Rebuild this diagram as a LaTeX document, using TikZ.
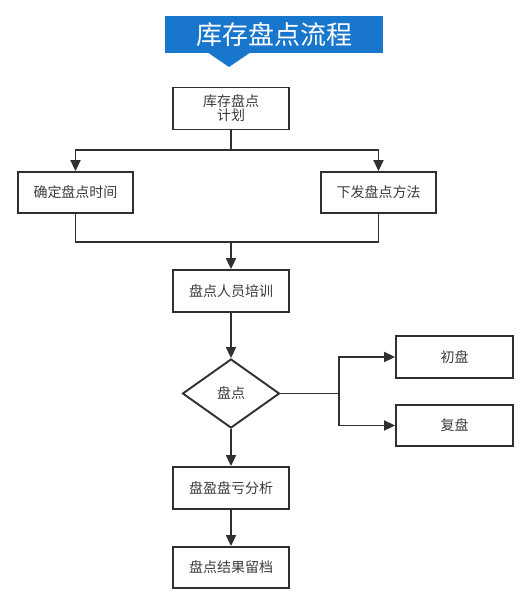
\documentclass[tikz,border=0pt]{standalone}
\usepackage{fontspec}
\setmainfont{Noto Sans CJK SC}
\usetikzlibrary{arrows.meta,shapes.geometric}
\definecolor{ttl}{RGB}{24,118,204}
\definecolor{ln}{RGB}{48,48,48}
\definecolor{tx}{RGB}{60,60,60}
\begin{document}
\begin{tikzpicture}[x=1pt,y=-1pt,
  box/.style={draw=ln,line width=1.9pt,fill=white,minimum width=116pt,minimum height=42pt,inner sep=0pt,text=tx,font=\fontsize{14}{17}\selectfont,align=center},
  dec/.style={draw=ln,line width=1.9pt,fill=white,diamond,minimum width=97pt,minimum height=69pt,inner sep=0pt,aspect=1.4,text=tx,font=\fontsize{14}{17}\selectfont},
  conn/.style={draw=ln,line width=1.9pt},
  arr/.style={conn,-{Triangle[length=11pt,width=10pt]}}]
\useasboundingbox[fill=white] (0,0) rectangle (530,600);
% title
\fill[ttl] (165,16) rectangle (383,53);
\fill[ttl] (207,52) -- (251,52) -- (229,67) -- cycle;
\node[text=white,font=\fontsize{26}{30}\selectfont] (title) at (274,35) {库存盘点流程};
% nodes
\node[box] (plan) at (231,108.5) {库存盘点\\[-3pt]计划};
\node[box,minimum width=115pt,minimum height=41pt] (time) at (75.5,192.5) {确定盘点时间};
\node[box,minimum width=115pt,minimum height=41pt] (meth) at (378.5,192.5) {下发盘点方法};
\node[box] (train) at (231,291) {盘点人员培训};
\node[dec] (chk) at (231,393.5) {盘点};
\node[box,minimum width=117pt] (first) at (454.5,357) {初盘};
\node[box,minimum width=117pt,minimum height=41pt] (second) at (454.5,425.5) {复盘};
\node[box] (anal) at (231,488) {盘盈盘亏分析};
\node[box,minimum height=41pt] (arch) at (231,567.5) {盘点结果留档};
% connectors
\coordinate (s1) at (231,150);
\coordinate (j1) at (231,242);
\coordinate (b1) at (339,393.5);
\draw[conn] (plan.south) -- (s1);
\draw[arr] (s1) -| (time.north);
\draw[arr] (s1) -| (meth.north);
\draw[conn] (time.south) |- (j1);
\draw[conn] (meth.south) |- (j1);
\draw[arr] (j1) -- (train.north);
\draw[arr] (train.south) -- (chk.north);
\draw[conn] (chk.east) -- (b1);
\draw[arr] (b1) |- (first.west);
\draw[arr] (b1) |- (second.west);
\draw[arr] (chk.south) -- (anal.north);
\draw[arr] (anal.south) -- (arch.north);
\end{tikzpicture}
\end{document}
